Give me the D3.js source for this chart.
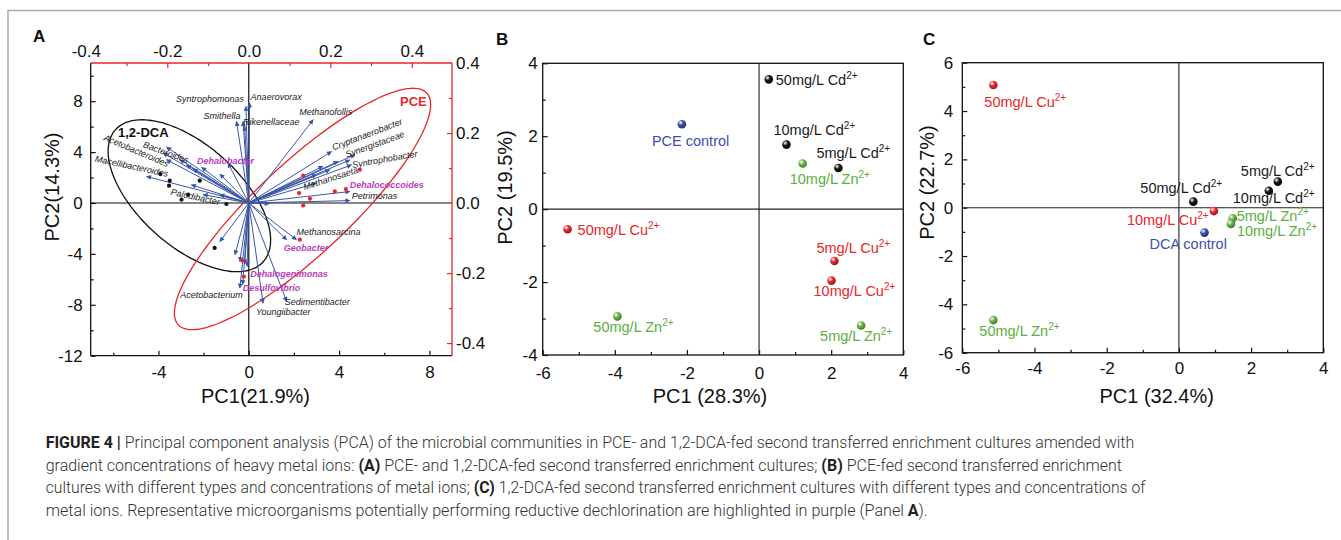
<!DOCTYPE html>
<html>
<head>
<meta charset="utf-8">
<script src="https://cdn.jsdelivr.net/npm/d3@7"></script>
<style>
  body { margin: 0; background: #fff; }
  svg { display: block; }
</style>
</head>
<body>
<svg></svg>
<script>
const W = 1341, H = 540;
const FONT = "'Liberation Sans', Arial, Helvetica, sans-serif";
const BLUE = '#3a56a8';
const RED = '#e8262a';
const PURPLE = '#b93db7';

// ---- Panel A: sample scores (PC1 / PC2) ----
const dcaPC1 = [-3.92, -3.50, -3.53, -2.69, -2.98, -2.17, -0.99, -1.51];
const dcaPC2 = [2.27, 1.75, 1.36, 0.65, 0.26, 1.75, -0.08, -3.53];
const pcePC1 = [2.41, 4.92, 3.81, 4.30, 2.23, 2.71, 2.41, 2.26, -0.28, -0.22];
const pcePC2 = [2.16, 2.61, 0.91, 1.10, 0.78, 0.34, -0.19, -2.88, -4.53, -5.78];

// ---- Panel A: taxa loadings (top / right axes) ----
const taxa = ['Syntrophomonas', 'Anaerovorax', 'Smithella', 'Rikenellaceae', '', 'Methanofollis',
  'Cryptanaerobacter', 'Synergistaceae', 'Syntrophobacter', '', '', '', '', '', 'Methanosaeta',
  'Dehalococcoides', 'Petrimonas', '', 'Bacteroides', 'Acetobacteroides', '', 'Macellibacteroides',
  '', '', '', '', '', 'Dehalobacter', '', 'Paludibacter', '', '', '', '', '', 'Dehalogenimonas',
  'Acetobacterium', 'Desulfovibrio', 'Youngiibacter', 'Sedimentibacter', 'Geobacter', 'Methanosarcina'];
const loadX = [-0.007, 0.002, -0.030, -0.014, -0.010, 0.158, 0.203, 0.260, 0.248, 0.219, 0.252, 0.182,
  0.199, 0.166, 0.166, 0.248, 0.248, 0.050, -0.202, -0.210, -0.202, -0.251, -0.169, -0.153, -0.137,
  -0.116, -0.071, -0.051, -0.141, -0.112, -0.071, -0.071, -0.034, -0.022, -0.010, -0.004, -0.022,
  -0.015, 0.035, 0.093, 0.093, 0.117];
const loadY = [0.276, 0.286, 0.233, 0.233, 0.219, 0.238, 0.147, 0.138, 0.123, 0.119, 0.109, 0.105,
  0.095, 0.081, 0.057, 0.033, 0.007, -0.002, 0.160, 0.143, 0.124, 0.076, 0.124, 0.109, 0.098, 0.102,
  0.083, 0.114, 0.052, 0.024, 0.024, -0.110, -0.148, -0.167, -0.174, -0.181, -0.243, -0.233, -0.286,
  -0.281, -0.105, -0.105];
const dechlorinators = ['Dehalobacter', 'Dehalococcoides', 'Geobacter', 'Dehalogenimonas', 'Desulfovibrio'];

// ellipses: centre and two conjugate semi-axes, in PC units
const dcaEllipse = { c: [-2.63, 0.57], u: [3.27, -5.19], v: [-1.50, -2.95] };
const pceEllipse = { c: [2.38, -0.47], u: [5.50, 9.11], v: [1.39, -2.64] };

// ---- Panel B ----
const bLabels = ['50mg/L Cd', '10mg/L Cd', '5mg/L Cd', 'PCE control', '10mg/L Zn', '50mg/L Cu',
  '5mg/L Cu', '10mg/L Cu', '50mg/L Zn', '5mg/L Zn'];
const bMetal = ['Cd', 'Cd', 'Cd', 'control', 'Zn', 'Cu', 'Cu', 'Cu', 'Zn', 'Zn'];
const bPC1 = [0.27, 0.76, 2.20, -2.14, 1.21, -5.31, 2.09, 2.01, -3.93, 2.83];
const bPC2 = [3.56, 1.77, 1.13, 2.33, 1.25, -0.55, -1.42, -1.96, -2.94, -3.19];

// ---- Panel C ----
const cLabels = ['50mg/L Cu', '5mg/L Cd', '10mg/L Cd', '50mg/L Cd', '10mg/L Cu', '5mg/L Zn',
  '10mg/L Zn', 'DCA control', '50mg/L Zn'];
const cMetal = ['Cu', 'Cd', 'Cd', 'Cd', 'Cu', 'Zn', 'Zn', 'control', 'Zn'];
const cPC1 = [-5.14, 2.74, 2.49, 0.40, 0.97, 1.49, 1.44, 0.71, -5.14];
const cPC2 = [5.08, 1.08, 0.70, 0.25, -0.14, -0.44, -0.67, -1.03, -4.65];

// label placement (pixels from the mark)
const taxaLabelPos = {
  Syntrophomonas: [-2, -4, 0, 'end'], Anaerovorax: [1, -3, 0], Smithella: [4, -2, 0, 'end'],
  Rikenellaceae: [0, 4, 0], Methanofollis: [-14, -5, 0], Cryptanaerobacter: [2, -1, -21],
  Synergistaceae: [-8, 3, -20], Syntrophobacter: [3, 8, -10], Methanosaeta: [-12, 7, -18],
  Dehalococcoides: [0, -3, 0], Petrimonas: [2, -2, 0], Bacteroides: [-24, 0, 20],
  Acetobacteroides: [-60, -13, 23], Macellibacteroides: [-52, -15, 12], Dehalobacter: [-31, 1, 0],
  Paludibacter: [-33, 0, 12], Methanosarcina: [0, -5, 0], Geobacter: [-3, 11, 0],
  Dehalogenimonas: [3, 11, 0], Desulfovibrio: [0, 6, 0], Acetobacterium: [3, 10, 0, 'end'],
  Sedimentibacter: [-2, 4, 0], Youngiibacter: [-7, 12, 0]
};
const bLabelDx = [7, -13, -22, -30, -13, 10, -18, -18, -24, -41];
const bLabelDy = [6, -10, -10, 22, 20, 6, -8, 15, 16, 16];
const cLabelDx = [-9, -37, -36, -53, -87, 4, 6, -55, -14];
const cLabelDy = [22, -6, 12, -9, 14, 3, 12, 16, 16];

const metalColor = { Cd: '#111111', Cu: RED, Zn: '#68b843', control: '#3a4ea6' };
const metalText = { Cd: '#1a1a1a', Cu: RED, Zn: '#5cae3e', control: '#3d50a8' };

const svg = d3.select('svg').attr('width', W).attr('height', H)
  .style('font-family', FONT);

const defs = svg.append('defs');
defs.append('marker')
  .attr('id', 'ah')
  .attr('viewBox', '0 0 10 10')
  .attr('refX', 9).attr('refY', 5)
  .attr('markerWidth', 7).attr('markerHeight', 5)
  .attr('markerUnits', 'userSpaceOnUse')
  .attr('orient', 'auto')
  .append('path').attr('d', 'M0,0L10,5L0,10z').attr('fill', BLUE);

Object.keys(metalColor).forEach(k => {
  const gr = defs.append('radialGradient').attr('id', 'ball-' + k)
    .attr('cx', '35%').attr('cy', '32%').attr('r', '70%');
  gr.append('stop').attr('offset', '0%').attr('stop-color', '#ffffff');
  gr.append('stop').attr('offset', '45%').attr('stop-color', metalColor[k]);
  gr.append('stop').attr('offset', '100%').attr('stop-color', d3.color(metalColor[k]).darker(1.2));
});

// outer grey border
svg.append('path')
  .attr('d', `M8,${H}V10.5H${W}`)
  .attr('fill', 'none').attr('stroke', '#a8a8a8').attr('stroke-width', 1.5);

function addAxis(gen, transform, values, size, fmt, pad, color) {
  const a = svg.append('g').attr('transform', transform)
    .call(gen.tickValues(values).tickSize(size).tickSizeOuter(0).tickPadding(pad).tickFormat(fmt));
  a.select('.domain').remove();
  a.selectAll('.tick line').attr('stroke', color).attr('stroke-width', 1.2);
  a.selectAll('.tick text').attr('fill', '#111').style('font-size', '17px').style('font-family', FONT);
  return a;
}
const intFmt = d => String(d);
const decFmt = d => d.toFixed(1);
const none = () => '';

function hline(y, x0, x1, color, w) {
  svg.append('line').attr('x1', x0).attr('x2', x1).attr('y1', y).attr('y2', y)
    .attr('stroke', color).attr('stroke-width', w);
}
function vline(x, y0, y1, color, w) {
  svg.append('line').attr('x1', x).attr('x2', x).attr('y1', y0).attr('y2', y1)
    .attr('stroke', color).attr('stroke-width', w);
}

// ================= Panel A =================
const xA = d3.scaleLinear().domain([-7, 9]).range([90.7, 452]);
const yA = d3.scaleLinear().domain([-12, 11]).range([355.7, 63]);
const xL = d3.scaleLinear().domain([-0.388, 0.4987]).range([90.7, 452]);
const yL = d3.scaleLinear().domain([-0.436, 0.4]).range([355.7, 63]);

const [ax0, ax1] = xA.range();
const [ay0, ay1] = yA.range();

addAxis(d3.axisBottom(xA), `translate(0,${ay0})`, [-4, 0, 4, 8], -5, intFmt, 10, '#111');
addAxis(d3.axisBottom(xA), `translate(0,${ay0})`, [-6, -2, 2, 6], -3, none, 10, '#111');
addAxis(d3.axisLeft(yA), `translate(${ax0},0)`, [-12, -8, -4, 0, 4, 8], -5, intFmt, 8, '#111');
addAxis(d3.axisLeft(yA), `translate(${ax0},0)`, [-10, -6, -2, 2, 6, 10], -3, none, 8, '#111');
addAxis(d3.axisTop(xL), `translate(0,${ay1})`, [-0.4, -0.2, 0, 0.2, 0.4], 0, decFmt, 6, RED);
addAxis(d3.axisTop(xL), `translate(0,${ay1})`, [-0.3, -0.1, 0.1, 0.3], -3, none, 6, RED);
addAxis(d3.axisTop(xL), `translate(0,${ay1})`, [-0.2, 0.2, 0.4], -5, none, 6, RED);
addAxis(d3.axisRight(yL), `translate(${ax1},0)`, [-0.4, -0.2, 0, 0.2, 0.4], 0, decFmt, 4, RED);
addAxis(d3.axisRight(yL), `translate(${ax1},0)`, [-0.3, -0.1, 0.1, 0.3], -3, none, 4, RED);
addAxis(d3.axisRight(yL), `translate(${ax1},0)`, [-0.4, -0.2, 0.2], -5, none, 4, RED);

hline(yA(0), ax0, ax1, '#111', 1.2);
vline(xA(0), ay1, ay0, '#111', 1.2);
hline(ay0, ax0, ax1, '#111', 1.3);
vline(ax0, ay1, ay0, '#111', 1.3);
hline(ay1, ax0, ax1, RED, 1.3);
vline(ax1, ay1, ay0, RED, 1.3);

function ellipsePts(e) {
  return d3.range(0, 360, 3).map(t => {
    const r = t * Math.PI / 180;
    return [xA(e.c[0] + e.u[0] * Math.cos(r) + e.v[0] * Math.sin(r)),
            yA(e.c[1] + e.u[1] * Math.cos(r) + e.v[1] * Math.sin(r))];
  });
}
const closed = d3.line().curve(d3.curveCardinalClosed);
svg.append('path').attr('d', closed(ellipsePts(dcaEllipse)))
  .attr('fill', 'none').attr('stroke', '#111').attr('stroke-width', 1.3);
svg.append('path').attr('d', closed(ellipsePts(pceEllipse)))
  .attr('fill', 'none').attr('stroke', RED).attr('stroke-width', 1.3);

// loading arrows
const arrows = taxa.map((name, i) => ({ name, x: loadX[i], y: loadY[i] }));
svg.append('g').selectAll('line').data(arrows).join('line')
  .attr('x1', xL(0)).attr('y1', yL(0))
  .attr('x2', d => xL(d.x)).attr('y2', d => yL(d.y))
  .attr('stroke', BLUE).attr('stroke-width', 1)
  .attr('marker-end', 'url(#ah)');

// sample scores
const dcaPts = dcaPC1.map((x, i) => ({ x, y: dcaPC2[i] }));
const pcePts = pcePC1.map((x, i) => ({ x, y: pcePC2[i] }));
svg.append('g').selectAll('circle').data(dcaPts).join('circle')
  .attr('cx', d => xA(d.x)).attr('cy', d => yA(d.y)).attr('r', 2.1).attr('fill', '#111');
svg.append('g').selectAll('circle').data(pcePts).join('circle')
  .attr('cx', d => xA(d.x)).attr('cy', d => yA(d.y)).attr('r', 2.1).attr('fill', RED);

// taxa labels
svg.append('g').selectAll('text').data(arrows.filter(d => taxaLabelPos[d.name])).join('text')
  .attr('transform', d => {
    const p = taxaLabelPos[d.name];
    return `translate(${xL(d.x) + p[0]},${yL(d.y) + p[1]}) rotate(${p[2]})`;
  })
  .attr('text-anchor', d => taxaLabelPos[d.name][3] || 'start')
  .style('font-size', '9px')
  .style('font-style', 'italic')
  .style('font-weight', d => dechlorinators.includes(d.name) ? 'bold' : 'normal')
  .attr('fill', d => dechlorinators.includes(d.name) ? PURPLE : '#1a1a1a')
  .text(d => d.name);

svg.append('text').attr('x', 118).attr('y', 137).text('1,2-DCA')
  .style('font-size', '13px').style('font-weight', 'bold').attr('fill', '#111');
svg.append('text').attr('x', 400).attr('y', 106).text('PCE')
  .style('font-size', '13px').style('font-weight', 'bold').attr('fill', RED);

svg.append('text').attr('x', 255.5).attr('y', 403).attr('text-anchor', 'middle')
  .style('font-size', '20px').attr('fill', '#111').text('PC1(21.9%)');
svg.append('text').attr('transform', 'translate(59,187) rotate(-90)').attr('text-anchor', 'middle')
  .style('font-size', '20px').attr('fill', '#111').text('PC2(14.3%)');

// ================= Panels B & C =================
function scorePanel(xs, ys, xTicks, xMinor, yTicks, yMinor, labels, metal, pc1, pc2, dx, dy, yPad, xPad) {
  const [x0, x1] = xs.range();
  const [y0, y1] = ys.range();
  addAxis(d3.axisBottom(xs), `translate(0,${y0})`, xTicks, -5, intFmt, xPad, '#111');
  addAxis(d3.axisBottom(xs), `translate(0,${y0})`, xMinor, -3, none, xPad, '#111');
  addAxis(d3.axisLeft(ys), `translate(${x0},0)`, yTicks, -5, intFmt, yPad, '#111');
  addAxis(d3.axisLeft(ys), `translate(${x0},0)`, yMinor, -3, none, yPad, '#111');
  hline(ys(0), x0, x1, '#222', 1.1);
  vline(xs(0), y1, y0, '#222', 1.1);
  svg.append('rect').attr('x', x0).attr('y', y1).attr('width', x1 - x0).attr('height', y0 - y1)
    .attr('fill', 'none').attr('stroke', '#111').attr('stroke-width', 1.3);

  const pts = labels.map((l, i) => ({ l, m: metal[i], x: pc1[i], y: pc2[i], dx: dx[i], dy: dy[i] }));
  svg.append('g').selectAll('circle').data(pts).join('circle')
    .attr('cx', d => xs(d.x)).attr('cy', d => ys(d.y)).attr('r', 4.3)
    .attr('fill', d => `url(#ball-${d.m})`);
  const t = svg.append('g').selectAll('text').data(pts).join('text')
    .attr('x', d => xs(d.x) + d.dx).attr('y', d => ys(d.y) + d.dy)
    .attr('fill', d => metalText[d.m])
    .style('font-size', '14.5px');
  t.append('tspan').text(d => d.l);
  t.filter(d => d.m !== 'control').append('tspan')
    .attr('dy', -6).style('font-size', '10px').text('2+');
}

const xB = d3.scaleLinear().domain([-6, 4]).range([542.7, 903.3]);
const yB = d3.scaleLinear().domain([-4, 4]).range([355, 63.3]);
scorePanel(xB, yB, [-6, -4, -2, 0, 2, 4], [-5, -3, -1, 1, 3], [-4, -2, 0, 2, 4], [-3, -1, 1, 3],
  bLabels, bMetal, bPC1, bPC2, bLabelDx, bLabelDy, 5, 12);

const xC = d3.scaleLinear().domain([-6, 4]).range([962.3, 1323.3]);
const yC = d3.scaleLinear().domain([-6, 6]).range([352.7, 62.7]);
scorePanel(xC, yC, [-6, -4, -2, 0, 2, 4], [-5, -3, -1, 1, 3], [-6, -4, -2, 0, 2, 4, 6], [-5, -3, -1, 1, 3, 5],
  cLabels, cMetal, cPC1, cPC2, cLabelDx, cLabelDy, 9, 9);

svg.append('text').attr('x', 710).attr('y', 403).attr('text-anchor', 'middle')
  .style('font-size', '20px').attr('fill', '#111').text('PC1 (28.3%)');
svg.append('text').attr('transform', 'translate(512,187.5) rotate(-90)').attr('text-anchor', 'middle')
  .style('font-size', '20px').attr('fill', '#111').text('PC2 (19.5%)');
svg.append('text').attr('x', 1156.7).attr('y', 403).attr('text-anchor', 'middle')
  .style('font-size', '20px').attr('fill', '#111').text('PC1 (32.4%)');
svg.append('text').attr('transform', 'translate(934,182.5) rotate(-90)').attr('text-anchor', 'middle')
  .style('font-size', '20px').attr('fill', '#111').text('PC2 (22.7%)');

// panel letters
[['A', 33, 41.5], ['B', 496, 45], ['C', 923, 45]].forEach(([l, x, y]) => {
  svg.append('text').attr('x', x).attr('y', y).text(l)
    .style('font-size', '17px').style('font-weight', 'bold').attr('fill', '#111');
});

// caption: each line is set in one text and squeezed horizontally to the measured width
const caption = [
  { y: 448.3, len: 1089, parts: [['FIGURE 4 | ', true], ['Principal component analysis (PCA) of the microbial communities in PCE- and 1,2-DCA-fed second transferred enrichment cultures amended with', false]] },
  { y: 471, len: 1077, parts: [['gradient concentrations of heavy metal ions: ', false], ['(A)', true], [' PCE- and 1,2-DCA-fed second transferred enrichment cultures; ', false], ['(B)', true], [' PCE-fed second transferred enrichment', false]] },
  { y: 493.3, len: 1101, parts: [['cultures with different types and concentrations of metal ions; ', false], ['(C)', true], [' 1,2-DCA-fed second transferred enrichment cultures with different types and concentrations of', false]] },
  { y: 515.5, len: 883, parts: [['metal ions. Representative microorganisms potentially performing reductive dechlorination are highlighted in purple (Panel ', false], ['A', true], [').', false]] }
];
caption.forEach(line => {
  const g = svg.append('g');
  const t = g.append('text').attr('x', 0).attr('y', 0)
    .style('font-family', "Roboto, 'Liberation Sans', Arial, sans-serif")
    .style('font-size', '16px').style('white-space', 'pre').attr('fill', '#333');
  line.parts.forEach(([s, b]) => {
    t.append('tspan').text(s).style('font-weight', b ? 700 : 300).attr('fill', b ? '#222' : '#333');
  });
  const natural = t.node().getComputedTextLength();
  g.attr('transform', `translate(45.7,${line.y}) scale(${line.len / natural},1)`);
});
</script>
</body>
</html>
